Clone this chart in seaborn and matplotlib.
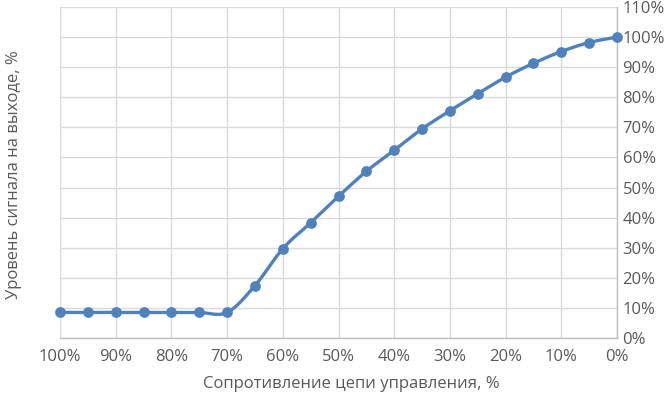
import numpy as np
import pandas as pd
import matplotlib
matplotlib.use("Agg")
import matplotlib.pyplot as plt
import seaborn as sns
from matplotlib.ticker import FuncFormatter, MultipleLocator

# control circuit resistance, % (x axis runs from 100% down to 0%)
resistance = [100, 95, 90, 85, 80, 75, 70, 65, 60, 55, 50, 45, 40, 35, 30,
              25, 20, 15, 10, 5, 0]
# output signal level, %
signal = [8.5, 8.5, 8.5, 8.5, 8.5, 8.5, 8.5, 17.4, 29.7, 38.3, 47.1, 55.4,
          62.4, 69.5, 75.5, 81.2, 86.7, 91.3, 95.2, 98.2, 100.0]

x_label = "Сопротивление цепи управления, %"
y_label = "Уровень сигнала на выходе, %"

LINE = "#4f81bd"
TEXT = "#595959"
GRID = "#d9d9d9"


def smooth(xs, ys, steps=30):
    """Excel-like smoothed line: Catmull-Rom segments drawn as Bezier curves."""
    pts = np.column_stack([xs, ys]).astype(float)
    out = []
    n = len(pts)
    for i in range(n - 1):
        p0 = pts[max(i - 1, 0)]
        p1 = pts[i]
        p2 = pts[i + 1]
        p3 = pts[min(i + 2, n - 1)]
        c1 = p1 + (p2 - p0) / 6
        c2 = p2 - (p3 - p1) / 6
        t = np.linspace(0, 1, steps, endpoint=(i == n - 2))[:, None]
        seg = ((1 - t) ** 3 * p1 + 3 * (1 - t) ** 2 * t * c1
               + 3 * (1 - t) * t ** 2 * c2 + t ** 3 * p2)
        out.append(seg)
    out = np.vstack(out)
    return out[:, 0], out[:, 1]


df = pd.DataFrame({"x": resistance, "y": signal})
sx, sy = smooth(df["x"], df["y"])
curve = pd.DataFrame({"x": sx, "y": sy})

sns.set_theme(style="white")
plt.rcParams["font.family"] = ["Open Sans", "DejaVu Sans"]

fig = plt.figure(figsize=(6.67, 3.97), dpi=100)
ax = fig.add_axes([60 / 667, 59 / 397, 557 / 667, 331 / 397])

sns.lineplot(data=curve, x="x", y="y", sort=False, estimator=None,
             color=LINE, linewidth=2.4, ax=ax, zorder=3)
sns.scatterplot(data=df, x="x", y="y", color=LINE, s=60, linewidth=0,
                ax=ax, zorder=4)
for coll in ax.collections:
    coll.set_clip_on(False)

ax.set_xlim(100, 0)
ax.set_ylim(0, 110)
ax.xaxis.set_major_locator(MultipleLocator(10))
ax.yaxis.set_major_locator(MultipleLocator(10))
pct = FuncFormatter(lambda v, _: f"{v:.0f}%")
ax.xaxis.set_major_formatter(pct)
ax.yaxis.set_major_formatter(pct)

ax.yaxis.tick_right()
ax.yaxis.set_label_position("left")
ax.grid(True, color=GRID, linewidth=1.0)
ax.set_axisbelow(True)

for side in ["top", "left"]:
    ax.spines[side].set_visible(False)
for side in ["bottom", "right"]:
    ax.spines[side].set_color("#bfbfbf")
    ax.spines[side].set_linewidth(1.0)

ax.tick_params(axis="x", length=0, pad=8, labelsize=12, labelcolor=TEXT)
ax.tick_params(axis="y", length=0, pad=4, labelsize=12, labelcolor=TEXT)

ax.set_xlabel(x_label, fontsize=12, color=TEXT, va="center")
ax.set_ylabel(y_label, fontsize=12, color=TEXT, va="center")
ax.xaxis.set_label_coords((351 - 60) / 557, -(384 - 338) / 331)
ax.yaxis.set_label_coords(-(60 - 14) / 557, (338 - 175) / 331)

fig.savefig("out.png", dpi=100)
